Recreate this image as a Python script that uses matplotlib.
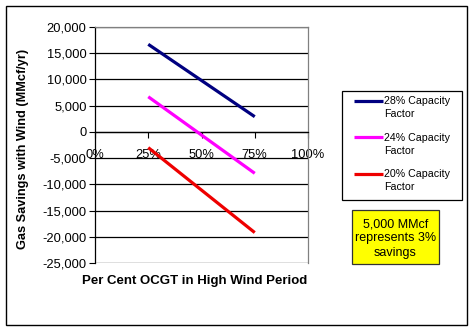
import matplotlib
matplotlib.use("Agg")
import matplotlib.pyplot as plt
from matplotlib.patches import Rectangle
from matplotlib.lines import Line2D
from matplotlib.ticker import FuncFormatter, MultipleLocator

plt.rcParams['font.family'] = ['Liberation Sans', 'DejaVu Sans']

# Share of OCGT in the high-wind period (fraction)
ocgt_share = [0.25, 0.75]
series_names = ["28% Capacity", "24% Capacity", "20% Capacity"]
savings_28 = [16700, 2900]
savings_24 = [6700, -7900]
savings_20 = [-3000, -19200]
series_colors = ["#000080", "#FF00FF", "#EE0000"]

W, H = 475, 332


def fx(px):
    return px / W


def fy(py):
    return 1 - py / H


fig = plt.figure(figsize=(4.75, 3.32), dpi=100)
fig.patch.set_facecolor("white")

# outer frame of the chart
fig.add_artist(Rectangle((fx(6), fy(325)), 461 / W, 319 / H,
                         transform=fig.transFigure, fill=False,
                         edgecolor="black", linewidth=1.0))

ax = fig.add_axes([fx(95), fy(263), 213 / W, 236 / H])
ax.set_xlim(0, 1)
ax.set_ylim(-25000, 20000)

for vals, c, name in zip([savings_28, savings_24, savings_20], series_colors, series_names):
    ax.plot(ocgt_share, vals, color=c, linewidth=2.3, label=name,
            solid_capstyle="butt", zorder=3)

# horizontal gridlines
ax.yaxis.set_major_locator(MultipleLocator(5000))
ax.grid(axis="y", color="black", linewidth=0.9)
ax.set_axisbelow(True)
ax.yaxis.set_major_formatter(FuncFormatter(lambda v, p: f"{int(v):,}"))
ax.tick_params(axis="y", labelsize=9.3, length=4, width=0.8, color="black", pad=2)

# x axis sits on the zero line
ax.spines["bottom"].set_position(("data", 0))
ax.spines["bottom"].set_color("black")
ax.spines["bottom"].set_linewidth(0.9)
ax.spines["left"].set_color("black")
ax.spines["left"].set_linewidth(0.9)
for s in ("top", "right"):
    ax.spines[s].set_color("#808080")
    ax.spines[s].set_linewidth(0.9)
ax.set_xticks([0, 0.25, 0.5, 0.75, 1.0])
ax.xaxis.set_major_formatter(FuncFormatter(lambda v, p: f"{int(round(v * 100))}%"))
ax.tick_params(axis="x", labelsize=9.3, direction="out", length=4, width=0.8, pad=8)

fig.text(fx(194.5), fy(281), "Per Cent OCGT in High Wind Period",
         ha="center", va="center", fontsize=9.5, fontweight="bold")
fig.text(fx(23), fy(149), "Gas Savings with Wind (MMcf/yr)",
         ha="center", va="center", rotation=90, fontsize=9.2, fontweight="bold")

# legend box
fig.add_artist(Rectangle((fx(342), fy(200)), 120 / W, 109 / H,
                         transform=fig.transFigure, facecolor="white",
                         edgecolor="black", linewidth=0.9))
for i, (c, name) in enumerate(zip(series_colors, series_names)):
    y0 = 101.3 + 36.5 * i
    fig.add_artist(Line2D([fx(354), fx(383)], [fy(y0 - 0.5), fy(y0 - 0.5)],
                          transform=fig.transFigure, color=c, linewidth=2.3,
                          solid_capstyle="butt"))
    fig.text(fx(384.5), fy(y0), name, ha="left", va="center", fontsize=7.7)
    fig.text(fx(384.5), fy(y0 + 13), "Factor", ha="left", va="center", fontsize=7.7)

# note box
fig.add_artist(Rectangle((fx(352), fy(264)), 87 / W, 54 / H,
                         transform=fig.transFigure, facecolor="#FFFF00",
                         edgecolor="#333333", linewidth=0.9))
fig.text(fx(395.5), fy(238.5), "5,000 MMcf\nrepresents 3%\nsavings",
         ha="center", va="center", fontsize=9, linespacing=1.25)

fig.savefig("out.png", dpi=100)
